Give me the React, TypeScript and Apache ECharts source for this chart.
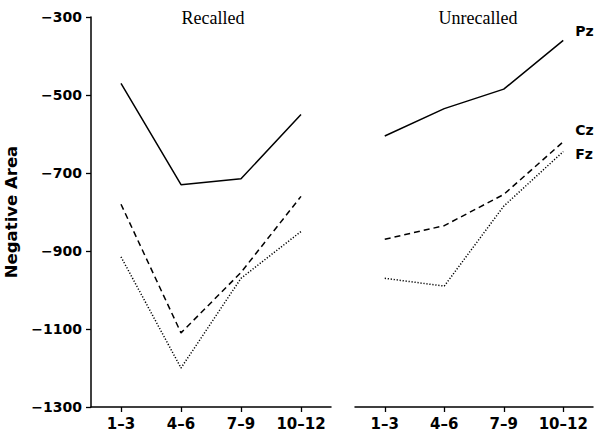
import React, { useEffect, useRef } from "react";
import * as echarts from "echarts";

const categories = ["1–3", "4–6", "7–9", "10–12"];
const yTicks = { min: -1300, max: -300, interval: 200 };
const panelTitles = ["Recalled", "Unrecalled"];
const seriesNames = ["Pz", "Cz", "Fz"];

const recalledPz = [-470, -730, -715, -550];
const recalledCz = [-780, -1110, -955, -760];
const recalledFz = [-915, -1200, -970, -850];

const unrecalledPz = [-605, -535, -485, -360];
const unrecalledCz = [-870, -835, -755, -620];
const unrecalledFz = [-970, -990, -785, -645];

const lineTypes: any[] = ["solid", [6, 4], [1.2, 1.8]];
const endOffsets: [number, number][] = [[0, -9], [0, -12], [0, 2]];

export default function App() {
  const ref = useRef<HTMLDivElement>(null);
  useEffect(() => {
    if (!ref.current) return;
    const chart = echarts.init(ref.current, undefined, { renderer: "svg" });
    const labelFont = { fontFamily: "DejaVu Sans", fontWeight: "bold" as const, color: "#000" };
    const xAxisBase = (gridIndex: number) => ({
      type: "category" as const,
      gridIndex,
      data: categories,
      boundaryGap: true,
      axisLine: { show: true, lineStyle: { color: "#000", width: 1.5 } },
      axisTick: { show: true, alignWithLabel: true, interval: 0, length: 5, lineStyle: { color: "#000", width: 1.3 } },
      axisLabel: { ...labelFont, fontSize: 15, margin: 9, interval: 0 },
      splitLine: { show: false },
    });
    const recalled = [recalledPz, recalledCz, recalledFz];
    const unrecalled = [unrecalledPz, unrecalledCz, unrecalledFz];
    const series: any[] = [];
    recalled.forEach((d, i) => {
      series.push({
        type: "line",
        name: seriesNames[i] + " recalled",
        xAxisIndex: 0,
        yAxisIndex: 0,
        data: d,
        symbol: "none",
        lineStyle: { color: "#000", width: 1.5, type: lineTypes[i] },
      });
    });
    unrecalled.forEach((d, i) => {
      series.push({
        type: "line",
        name: seriesNames[i],
        xAxisIndex: 1,
        yAxisIndex: 1,
        data: d,
        symbol: "none",
        lineStyle: { color: "#000", width: 1.5, type: lineTypes[i] },
        endLabel: {
          show: true,
          formatter: seriesNames[i],
          distance: 12,
          offset: endOffsets[i],
          ...labelFont,
          fontSize: 14,
        },
      });
    });
    chart.setOption({
      animation: false,
      backgroundColor: "#fff",
      title: [
        {
          text: panelTitles[0],
          left: 208,
          top: 4,
          textAlign: "center",
          textStyle: { fontFamily: "Liberation Serif", fontWeight: "normal", fontSize: 18, color: "#000" },
        },
        {
          text: panelTitles[1],
          left: 473,
          top: 4,
          textAlign: "center",
          textStyle: { fontFamily: "Liberation Serif", fontWeight: "normal", fontSize: 18, color: "#000" },
        },
      ],
      grid: [
        { left: 91, right: 269, top: 17, bottom: 32, containLabel: false },
        { left: 355, right: 7, top: 17, bottom: 32, containLabel: false },
      ],
      xAxis: [xAxisBase(0), xAxisBase(1)],
      yAxis: [
        {
          type: "value",
          gridIndex: 0,
          min: yTicks.min,
          max: yTicks.max,
          interval: yTicks.interval,
          name: "Negative Area",
          nameLocation: "middle",
          nameGap: 71,
          nameTextStyle: { ...labelFont, fontSize: 16.5 },
          axisLine: { show: true, lineStyle: { color: "#000", width: 1.5 } },
          axisTick: { show: true, length: 5, lineStyle: { color: "#000", width: 1.3 } },
          axisLabel: {
            ...labelFont,
            fontSize: 14,
            margin: 9,
            formatter: (v: number) => (v < 0 ? "−" + Math.abs(v) : String(v)),
          },
          splitLine: { show: false },
        },
        {
          type: "value",
          gridIndex: 1,
          min: yTicks.min,
          max: yTicks.max,
          interval: yTicks.interval,
          axisLine: { show: false },
          axisTick: { show: false },
          axisLabel: { show: false },
          splitLine: { show: false },
        },
      ],
      series,
    });
    return () => chart.dispose();
  }, []);
  return (
    <div
      ref={ref}
      style={{ position: "fixed", left: 0, top: 0, width: 600, height: 439, background: "#fff" }}
    />
  );
}
